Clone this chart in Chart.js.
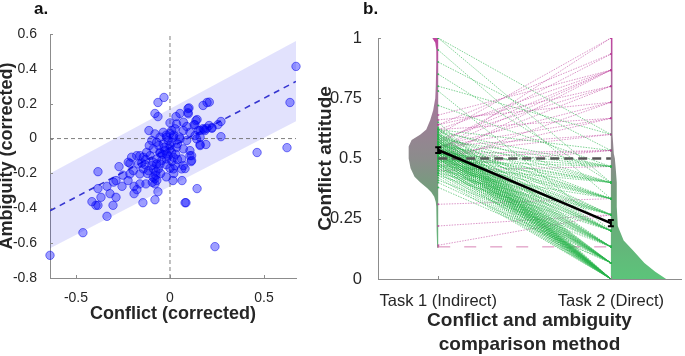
<!DOCTYPE html>
<html><head><meta charset="utf-8">
<script src="https://cdn.jsdelivr.net/npm/chart.js@4.4.1/dist/chart.umd.min.js"></script>
<style>
html,body{margin:0;padding:0;background:#fff;overflow:hidden}
#wrap{position:relative;width:685px;height:356px}
#ca{position:absolute;left:0;top:0}
#cb{position:absolute;left:310px;top:0}
</style></head><body>
<div id="wrap"><canvas id="ca" width="310" height="356"></canvas><canvas id="cb" width="375" height="356"></canvas></div>
<script>
// ---------- Panel a data ----------
const conflictValues = [0.67,0.638,0.622,0.463,0.271,0.271,0.197,0.176,0.208,0.176,0.144,0.096,0.096,0.053,0.032,-0.032,-0.064,-0.080,-0.064,-0.112,-0.383,-0.271,0.128,0.160,0.223,0.255,0.160,0.191,0.106,0.112,0.080,-0.638,-0.463,-0.335,-0.415,-0.394,-0.383,-0.367,-0.303,-0.319,-0.287,-0.335,-0.383,-0.255,-0.287,-0.223,-0.191,-0.191,-0.176,-0.160,-0.144,-0.128,-0.080,-0.064,-0.08,-0.08,0.016,0.064,0.080,0.085,0.144,0.239,-0.094,-0.089,0.018,0.062,-0.213,-0.195,-0.16,-0.142,-0.115,-0.089,-0.062,-0.204,-0.177,-0.142,-0.106,-0.071,-0.044,-0.018,-0.053,-0.213,-0.169,-0.133,-0.097,-0.071,0.101,0.097,0.0,0.035,0.071,0.089,0.133,0.151,0.186,0.16,0.133,0.106,0.071,0.027,0.009,-0.08,-0.036,-0.053,-0.018,0.018,0.053,0.089,0.142,0.16,0.106,0.071,0.035,0.0,-0.036,-0.071,-0.097,-0.027,0.009,-0.053,-0.089,-0.124,-0.16,-0.222,0.115,0.115,0.062,-0.018,0.018,-0.053,-0.089,0.027,0.071,-0.01,0.01,-0.02,0.02,0.0,-0.01,0.01,-0.03,0.04,-0.04,0.03,0.0,-0.02,0.0,0.05,-0.06,0.04,-0.11,-0.13,-0.15,-0.12,-0.25,-0.3,-0.05,0.02,-0.02,-0.075,-0.075,-0.07,0.195,0.223,0.181,0.209,0.138];
const ambiguityValues = [0.414,0.207,-0.052,-0.080,0.011,0.098,0.207,0.19,0.075,0.057,0.109,0.172,0.149,0.144,0.126,0.236,0.207,0.144,0.126,0.046,-0.19,-0.161,0.080,0.046,0.063,0.080,-0.034,-0.034,-0.098,-0.132,-0.172,-0.67,-0.54,-0.446,-0.362,-0.383,-0.383,-0.337,-0.383,-0.316,-0.337,-0.274,-0.287,-0.274,-0.241,-0.241,-0.316,-0.274,-0.293,-0.26,-0.368,-0.26,-0.351,-0.305,-0.26,-0.23,-0.241,-0.241,-0.368,-0.368,-0.287,-0.62,-0.251,-0.222,-0.174,-0.174,-0.203,-0.184,-0.203,-0.174,-0.184,-0.174,-0.174,-0.107,-0.098,-0.107,-0.098,-0.117,-0.126,-0.088,-0.084,-0.142,-0.146,-0.149,-0.155,-0.146,0.176,0.142,0.09,0.084,0.094,0.069,0.079,0.046,0.046,0.008,0.017,0.036,0.046,0.056,0.046,0.027,0.036,0.008,0.008,0.008,-0.002,-0.011,-0.002,-0.04,-0.069,-0.059,-0.05,-0.04,-0.031,-0.021,-0.011,-0.069,-0.079,-0.079,-0.059,-0.079,-0.098,-0.136,-0.098,-0.126,-0.117,-0.117,-0.107,-0.146,-0.136,-0.155,-0.155,-0.01,-0.02,0.02,0.02,-0.06,-0.1,-0.13,-0.05,-0.03,-0.09,-0.09,0.03,-0.15,-0.17,0.01,-0.04,-0.12,-0.04,-0.12,-0.14,-0.2,-0.21,-0.25,-0.2,-0.2,-0.22,-0.19,-0.21,-0.24,0.059,0.059,0.052,0.209,0.103];
const fitX = [-0.638, 0.67];
const fitY = [-0.414, 0.328];
const bandUpperY = [-0.2, 0.56];
const bandLowerY = [-0.63, 0.10];
const xTicksA = [-0.5, 0, 0.5];
const yTicksA = [-0.8, -0.6, -0.4, -0.2, 0, 0.2, 0.4, 0.6];

// ---------- Panel b data ----------
const taskLabels = ['Task 1 (Indirect)', 'Task 2 (Direct)'];
const taskPositions = [1, 2];
const task1Indirect = [
0.42,0.45,0.47,0.48,0.50,0.50,0.51,0.52,0.52,0.53,0.53,0.54,0.54,0.55,0.55,0.55,0.56,0.56,0.57,0.57,0.58,0.58,0.59,0.60,0.60,0.61,0.62,0.44,0.46,0.49,0.51,0.53,0.56,0.58,0.48,0.50,0.52,0.54,0.57,0.59,0.43,0.47,0.63,0.65,
0.40,0.44,0.47,0.49,0.50,0.51,0.52,0.53,0.54,0.55,0.56,0.57,0.58,0.59,0.60,0.48,0.50,0.52,0.55,0.57,0.46,0.53,0.61,0.38,
0.41,0.45,0.48,0.50,0.52,0.53,0.55,0.56,0.58,0.60,0.47,0.51,0.54,0.57,0.1333,0.62,
0.43,0.46,0.49,0.51,0.53,0.55,0.57,0.59,0.50,0.54,0.78,0.62,
0.44,0.48,0.50,0.52,0.55,0.58,0.60,0.47,0.53,0.14,0.22,
0.45,0.49,0.52,0.54,0.57,0.60,0.51,0.56,0.95,0.31,
0.47,0.50,0.53,0.56,0.59,0.62,0.52,0.85,1.00,
0.49,0.52,0.55,0.58,0.61,0.72,0.45,
0.50,0.47,0.52,0.62,0.90,
0.55,0.52,0.80,1.00,
0.55,0.50,0.62,
0.55,0.48,0.66,
0.52,0.58,0.64,
0.50,0.54,0.57,0.62,0.68,
0.56,0.64,
0.53,0.60];
const task2Direct = [
0,0,0,0,0,0,0,0,0,0,0,0,0,0,0,0,0,0,0,0,0,0,0,0,0,0,0,0,0,0,0,0,0,0,0,0,0,0,0,0,0,0,0,0,
0.0667,0.0667,0.0667,0.0667,0.0667,0.0667,0.0667,0.0667,0.0667,0.0667,0.0667,0.0667,0.0667,0.0667,0.0667,0.0667,0.0667,0.0667,0.0667,0.0667,0.0667,0.0667,0.0667,0.0667,
0.1333,0.1333,0.1333,0.1333,0.1333,0.1333,0.1333,0.1333,0.1333,0.1333,0.1333,0.1333,0.1333,0.1333,0.1333,0.1333,
0.2,0.2,0.2,0.2,0.2,0.2,0.2,0.2,0.2,0.2,0.2,0.2,
0.2667,0.2667,0.2667,0.2667,0.2667,0.2667,0.2667,0.2667,0.2667,0.2667,0.2667,
0.3333,0.3333,0.3333,0.3333,0.3333,0.3333,0.3333,0.3333,0.3333,0.3333,
0.4,0.4,0.4,0.4,0.4,0.4,0.4,0.4,0.4,
0.4667,0.4667,0.4667,0.4667,0.4667,0.4667,0.4667,
0.5333,0.5333,0.5333,0.5333,0.5333,
0.6,0.6,0.6,0.6,
0.6667,0.6667,0.6667,
0.7333,0.7333,0.7333,
0.8,0.8,0.8,
0.8667,0.8667,0.8667,0.8667,0.8667,
0.9333,0.9333,
1,1];
const meanAttitude = [0.535, 0.232];
const semAttitude = [0.012, 0.013];
const referenceLevel = [0.5];
// violin outlines: attitude level -> half width (x units)
const violin1Level = [1, 0.98, 0.95, 0.9, 0.8, 0.75, 0.7, 0.66, 0.62, 0.6, 0.577, 0.55, 0.5, 0.46, 0.424, 0.4, 0.377, 0.36, 0.341, 0.32, 0.3, 0.2, 0.13];
const violin1Width = [0.034, 0.017, 0.011, 0.011, 0.014, 0.017, 0.029, 0.046, 0.069, 0.103, 0.154, 0.171, 0.171, 0.160, 0.137, 0.103, 0.063, 0.040, 0.023, 0.014, 0.011, 0.009, 0.006];
const violin2Level = [1, 0.9, 0.8, 0.7, 0.6, 0.52, 0.5, 0.45, 0.4, 0.3, 0.22, 0.2, 0.16, 0.12, 0.066, 0.03, 0];
const violin2Width = [0.009, 0.009, 0.009, 0.009, 0.011, 0.017, 0.023, 0.029, 0.034, 0.034, 0.040, 0.051, 0.074, 0.126, 0.194, 0.257, 0.32];

const FONT = "'Liberation Sans', Arial, sans-serif";
const AXIS_GREY = '#8c8c8c';
const TXT = '#262626';

const tickMarks = {
  id: 'tickMarks',
  afterDatasetsDraw(chart, args, opts) {
    const ctx = chart.ctx, xs = chart.scales.x, ys = chart.scales.y, a = chart.chartArea;
    ctx.save();
    ctx.strokeStyle = AXIS_GREY; ctx.lineWidth = 1;
    ctx.beginPath();
    xs.ticks.forEach(t => { const px = Math.round(xs.getPixelForValue(t.value)) + 0.5; ctx.moveTo(px, a.bottom); ctx.lineTo(px, a.bottom - opts.len); });
    ys.ticks.forEach(t => { const py = Math.round(ys.getPixelForValue(t.value)) + 0.5; ctx.moveTo(a.left, py); ctx.lineTo(a.left + opts.len, py); });
    ctx.stroke();
    ctx.font = 'bold 17px ' + FONT; ctx.fillStyle = '#111'; ctx.textBaseline = 'alphabetic'; ctx.textAlign = 'left';
    ctx.fillText(opts.label, opts.lx, opts.ly);
    ctx.restore();
  }
};

const errorBars = {
  id: 'errorBars',
  afterDatasetsDraw(chart) {
    const ctx = chart.ctx, xs = chart.scales.x, ys = chart.scales.y;
    ctx.save(); ctx.strokeStyle = '#000'; ctx.lineWidth = 2;
    taskPositions.forEach((p, i) => {
      const px = xs.getPixelForValue(p);
      const y1 = ys.getPixelForValue(meanAttitude[i] - semAttitude[i]);
      const y2 = ys.getPixelForValue(meanAttitude[i] + semAttitude[i]);
      ctx.beginPath();
      ctx.moveTo(px, y1); ctx.lineTo(px, y2);
      ctx.moveTo(px - 3, y1); ctx.lineTo(px + 3, y1);
      ctx.moveTo(px - 3, y2); ctx.lineTo(px + 3, y2);
      ctx.stroke();
    });
    ctx.restore();
  }
};

// ---------- Chart a ----------
new Chart(document.getElementById('ca'), {
  type: 'scatter',
  data: { datasets: [
    { data: conflictValues.map((c, i) => ({x: c, y: ambiguityValues[i]})), pointRadius: 4.2, backgroundColor: 'rgba(0,0,255,0.38)', borderColor: 'rgba(0,0,235,0.5)', borderWidth: 1, clip: false, order: 0 },
    { data: fitX.map((x, i) => ({x, y: fitY[i]})), showLine: true, pointRadius: 0, borderColor: '#3535d0', borderWidth: 1.6, borderDash: [6, 5], order: 1 },
    { data: [{x: 0, y: yTicksA[0]}, {x: 0, y: yTicksA[yTicksA.length - 1]}], showLine: true, pointRadius: 0, borderColor: '#707070', borderWidth: 0.9, borderDash: [4, 3], order: 2 },
    { data: [{x: fitX[0], y: 0}, {x: fitX[1], y: 0}], showLine: true, pointRadius: 0, borderColor: '#707070', borderWidth: 0.9, borderDash: [4, 3], order: 3 },
    { data: fitX.map((x, i) => ({x, y: bandUpperY[i]})), showLine: true, pointRadius: 0, borderWidth: 0, borderColor: 'rgba(0,0,0,0)', fill: '+1', backgroundColor: 'rgba(20,20,240,0.12)', order: 4 },
    { data: fitX.map((x, i) => ({x, y: bandLowerY[i]})), showLine: true, pointRadius: 0, borderWidth: 0, borderColor: 'rgba(0,0,0,0)', fill: false, order: 5 }
  ]},
  options: {
    responsive: false, animation: false, devicePixelRatio: 1,
    layout: { padding: { left: 0, right: 14, top: 34, bottom: 0 } },
    plugins: { legend: { display: false }, tooltip: { enabled: false }, tickMarks: { len: 3, label: 'a.', lx: 34, ly: 14 } },
    scales: {
      x: { type: 'linear', min: fitX[0], max: fitX[1],
        afterBuildTicks: s => { s.ticks = xTicksA.map(v => ({value: v})); },
        afterFit: s => { s.height = 78; },
        grid: { display: false }, border: { display: true, color: AXIS_GREY, width: 1 },
        ticks: { color: TXT, font: { family: FONT, size: 14 }, padding: 4, maxRotation: 0, callback: v => String(Math.round(v * 100) / 100) },
        title: { display: true, text: 'Conflict (corrected)', color: TXT, font: { family: FONT, size: 18, weight: 'bold', lineHeight: 1.2 }, padding: { top: 0, bottom: 31 } } },
      y: { type: 'linear', min: yTicksA[0], max: yTicksA[yTicksA.length - 1],
        afterBuildTicks: s => { s.ticks = yTicksA.map(v => ({value: v})); },
        afterFit: s => { s.width = 50; },
        grid: { display: false }, border: { display: true, color: AXIS_GREY, width: 1 },
        ticks: { color: TXT, font: { family: FONT, size: 14 }, padding: 5, callback: v => String(Math.round(v * 100) / 100) },
        title: { display: true, text: 'Ambiguity (corrected)', color: TXT, font: { family: FONT, size: 18, weight: 'bold', lineHeight: 0.78 }, padding: { top: 0, bottom: 0 } } }
    }
  },
  plugins: [tickMarks]
});

// ---------- Chart b ----------
function violinGradient(context) {
  const chart = context.chart, ys = chart.scales.y;
  if (!chart.chartArea || !ys) return 'rgba(140,140,140,1)';
  const g = chart.ctx.createLinearGradient(0, ys.getPixelForValue(1), 0, ys.getPixelForValue(0));
  g.addColorStop(0, 'rgb(190,70,160)');
  g.addColorStop(0.25, 'rgb(165,120,155)');
  g.addColorStop(0.5, 'rgb(140,140,140)');
  g.addColorStop(0.65, 'rgb(112,160,122)');
  g.addColorStop(1, 'rgb(92,196,122)');
  return g;
}
function violinShape(center, levels, widths, side) {
  const pts = [{x: center, y: levels[0]}];
  levels.forEach((l, i) => pts.push({x: center + side * widths[i], y: l}));
  pts.push({x: center, y: levels[levels.length - 1]});
  pts.push({x: center, y: levels[0]});
  return pts;
}
const GREEN = 'rgba(40,180,75,0.75)';
const MAGENTA = 'rgba(185,55,150,0.65)';
const subjectSets = task1Indirect.map((t1, i) => {
  const t2 = task2Direct[i];
  const equal = Math.abs(t2 - t1) < 0.005;
  const col = equal ? 'rgba(200,80,150,0.7)' : (t2 < t1 ? GREEN : MAGENTA);
  return { data: [{x: taskPositions[0], y: t1}, {x: taskPositions[1], y: t2}], showLine: true,
    borderColor: col, borderWidth: equal ? 1 : 0.8, borderDash: equal ? [12, 14] : [1.5, 1.2],
    pointRadius: 1, pointBackgroundColor: col, pointBorderWidth: 0, order: 3 };
});
new Chart(document.getElementById('cb'), {
  type: 'scatter',
  data: { datasets: [
    { data: taskPositions.map((p, i) => ({x: p, y: meanAttitude[i]})), showLine: true, pointRadius: 0, borderColor: '#000', borderWidth: 2.6, order: 0 },
    { data: taskPositions.map(p => ({x: p, y: referenceLevel[0]})), showLine: true, pointRadius: 0, borderColor: '#555', borderWidth: 2.6, borderDash: [9, 5], order: 1 },
    ...subjectSets,
    { data: violinShape(taskPositions[0], violin1Level, violin1Width, -1), showLine: true, pointRadius: 0, borderWidth: 0, borderColor: 'rgba(0,0,0,0)', fill: 'shape', backgroundColor: violinGradient, tension: 0, order: 8 },
    { data: violinShape(taskPositions[1], violin2Level, violin2Width, 1), showLine: true, pointRadius: 0, borderWidth: 0, borderColor: 'rgba(0,0,0,0)', fill: 'shape', backgroundColor: violinGradient, tension: 0, order: 9 }
  ]},
  options: {
    responsive: false, animation: false, devicePixelRatio: 1,
    layout: { padding: { left: 0, right: 0, top: 38, bottom: 0 } },
    plugins: { legend: { display: false }, tooltip: { enabled: false }, tickMarks: { len: 3, label: 'b.', lx: 53, ly: 14 } },
    scales: {
      x: { type: 'linear', min: 0.6514, max: 2.406,
        afterBuildTicks: s => { s.ticks = taskPositions.map(v => ({value: v})); },
        afterFit: s => { s.height = 77; },
        grid: { display: false }, border: { display: true, color: AXIS_GREY, width: 1 },
        ticks: { color: TXT, font: { family: FONT, size: 16.5 }, padding: 5, maxRotation: 0, autoSkip: false, callback: v => taskLabels[taskPositions.indexOf(v)] },
        title: { display: true, text: ['Conflict and ambiguity', 'comparison method'], color: TXT, font: { family: FONT, size: 19, weight: 'bold', lineHeight: 1.226 }, padding: { top: 0, bottom: 0 } } },
      y: { type: 'linear', min: 0, max: 1,
        afterBuildTicks: s => { s.ticks = [0, 0.25, 0.5, 0.75, 1].map(v => ({value: v})); },
        afterFit: s => { s.width = 68; },
        grid: { display: false }, border: { display: true, color: AXIS_GREY, width: 1 },
        ticks: { color: TXT, font: { family: FONT, size: 16.5 }, padding: 8, callback: v => String(v) },
        title: { display: true, text: 'Conflict attitude', color: TXT, font: { family: FONT, size: 19, weight: 'bold', lineHeight: 1 }, padding: { top: 6.5, bottom: 0 } } }
    }
  },
  plugins: [tickMarks, errorBars]
});
</script>
</body></html>
